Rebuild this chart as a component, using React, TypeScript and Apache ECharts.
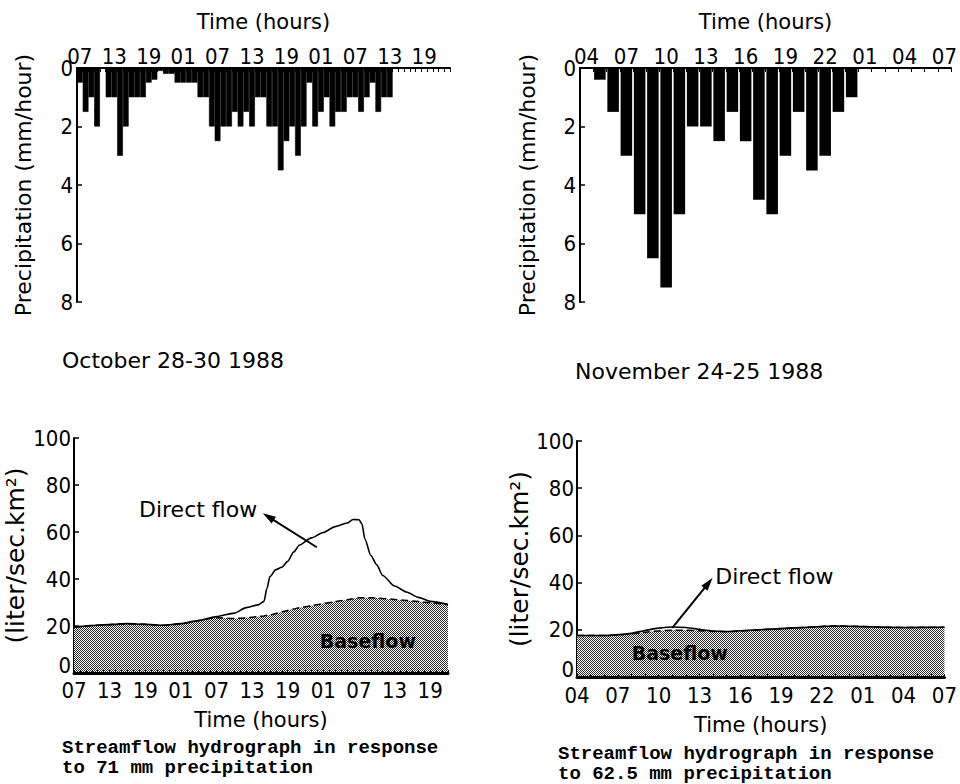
import React, { useEffect, useRef } from "react";
import * as echarts from "echarts";

// ---------- Top-left: October 28-30 1988 hourly precipitation (mm/hour), from 07:00 ----------
const octStartHour = 7;
const octAxisHourCount = 65;
const octPrecip = [
  0.5, 1.5, 1.0, 2.0, 0, 1.0, 1.0, 3.0, 2.0, 1.0,
  1.0, 1.0, 0.5, 0.4, 0.1, 0.2, 0.2, 0.5, 0.5, 0.5,
  0.5, 1.0, 1.0, 2.0, 2.5, 2.0, 2.0, 1.5, 2.0, 1.5,
  2.0, 1.0, 1.0, 2.0, 2.0, 3.5, 2.5, 2.0, 3.0, 2.0,
  0.5, 2.0, 1.5, 1.0, 2.0, 1.5, 1.5, 1.0, 1.0, 1.5,
  1.0, 0.5, 1.5, 1.0, 1.0,
];

// ---------- Top-right: November 24-25 1988 hourly precipitation (mm/hour), from 04:00 ----------
const novStartHour = 4;
const novAxisHourCount = 28;
const novPrecip = [
  0, 0.4, 1.5, 3.0, 5.0, 6.5, 7.5, 5.0, 2.0, 2.0,
  2.5, 1.5, 2.5, 4.5, 5.0, 3.0, 1.5, 3.5, 3.0, 1.5, 1.0,
];

const precipTicks = [0, 2, 4, 6, 8];

// ---------- Bottom-left: streamflow, October (hours after 07:00) ----------
const octFlowTickLabels = ["07", "13", "19", "01", "07", "13", "19", "01", "07", "13", "19"];
const octFlowHours = [
  0, 3, 6, 9, 12, 15, 18, 21, 24, 27,
  29, 31, 32, 32.5, 33, 34, 35, 36, 37, 38,
  40, 42, 44, 46, 47, 48, 48.5, 49, 50, 51,
  52, 54, 56, 58, 60, 63,
];
const octBaseflow = [
  19.5, 20.2, 20.6, 21, 20.7, 20.3, 21, 22.3, 23.5, 23.2,
  23.5, 24, 24.3, 24.5, 24.7, 25.3, 26, 26.6, 27.2, 27.8,
  28.6, 29.6, 30.4, 31.2, 31.6, 32, 32, 32, 32, 31.9,
  31.7, 31.3, 30.9, 30.4, 29.9, 29.1,
];
const octDirectFlow = [
  19.5, 20.2, 20.6, 21, 20.7, 20.3, 21, 22.3, 24, 25.5,
  27.8, 29, 30.5, 36, 41, 44, 45, 47.5, 51.5, 54.5,
  57.5, 59.8, 62.3, 63.8, 65.3, 65.2, 63.5, 57, 50, 46,
  41.5, 37, 34.5, 32.2, 30.5, 29.1,
];

// ---------- Bottom-right: streamflow, November (hours after 04:00) ----------
const novFlowTickLabels = ["04", "07", "10", "13", "16", "19", "22", "01", "04", "07"];
const novFlowHours = [0, 2, 4, 5, 6, 7, 8, 9, 10, 11, 12, 14, 16, 18, 19, 20, 22, 24, 27];
const novBaseflow = [
  17.6, 17.6, 18.3, 19, 19.5, 19.8, 19.8, 19.6, 19.3, 19.2,
  19.5, 20.2, 20.8, 21.4, 21.6, 21.5, 21.2, 21, 21.1,
];
const novDirectFlow = [
  17.6, 17.6, 18.5, 19.7, 20.7, 21.2, 21, 20.2, 19.5, 19.3,
  19.6, 20.2, 20.8, 21.4, 21.6, 21.5, 21.2, 21, 21.1,
];

const flowTicks = [0, 20, 40, 60, 80, 100];

// ---------- annotation anchors (data coordinates) ----------
const octArrow = { head: [31.8, 68], tail: [40.9, 53.5], text: [20.9, 69.7], base: [49.5, 13.5] };
const novArrow = { head: [9.96, 41.9], tail: [7.0, 20.8], text: [14.5, 42.7], base: [7.55, 10.2] };

const pad2 = (n: number) => (n < 10 ? "0" + n : String(n));
function hourCategories(start: number, count: number) {
  const out: string[] = [];
  for (let i = 0; i < count; i++) out.push(pad2((start + i) % 24));
  return out;
}

const LABEL_FONT = "'Liberation Sans Narrow','DejaVu Sans Condensed','Roboto Condensed','DejaVu Sans',sans-serif";
const SANS = "'DejaVu Sans',sans-serif";

function hatchPattern() {
  const c = document.createElement("canvas");
  c.width = 4;
  c.height = 4;
  const g = c.getContext("2d");
  if (g) {
    g.fillStyle = "#ffffff";
    g.fillRect(0, 0, 4, 4);
    g.fillStyle = "#2a2a2a";
    const dots = [[0, 0], [2, 0], [1, 1], [3, 1], [0, 2], [2, 2], [1, 3], [3, 3]];
    for (const [px, py] of dots) g.fillRect(px, py, 1, 1);
  }
  return { image: c.toDataURL(), repeat: "repeat", imageWidth: 4, imageHeight: 4 };
}

export default function App() {
  const ref = useRef<HTMLDivElement>(null);

  useEffect(() => {
    document.body.style.margin = "0";
    if (!ref.current) return;
    const chart = echarts.init(ref.current, null, { renderer: "svg" });
    const pattern = hatchPattern();

    const axisLabelStyle = { color: "#000", fontFamily: LABEL_FONT, fontSize: 22 };
    const nameStyle = { color: "#000", fontFamily: SANS, fontSize: 21 };
    const blackLine = (w: number) => ({ show: true, lineStyle: { color: "#000", width: w } });

    const octCats = hourCategories(octStartHour, octAxisHourCount);
    const novCats = hourCategories(novStartHour, novAxisHourCount);

    // the zero label of the flow axes sits a little above the baseline, as in the original
    const flowYLabel = {
      ...axisLabelStyle,
      margin: 3,
      formatter: (v: number) => (v === 0 ? "{z|0}" : String(v)),
      rich: { z: { fontFamily: LABEL_FONT, fontSize: 22, color: "#000", padding: [0, 0, 16, 0] } },
    };

    const option: any = {
      animation: false,
      backgroundColor: "#fff",
      grid: [
        { left: 77, top: 68, width: 373, height: 234 },
        { left: 580, top: 68, width: 372, height: 234 },
        { left: 74, top: 438, width: 374, height: 235 },
        { left: 577, top: 441, width: 374, height: 236 },
      ],
      xAxis: [
        {
          gridIndex: 0, type: "category", position: "top", data: octCats, boundaryGap: true,
          axisLine: blackLine(2),
          axisTick: { show: true, inside: true, length: 4, interval: 0, lineStyle: { color: "#000", width: 1 } },
          axisLabel: { ...axisLabelStyle, interval: 5, margin: 1 },
          name: "Time (hours)", nameLocation: "middle", nameGap: 36, nameTextStyle: nameStyle,
          splitLine: { show: false },
        },
        {
          gridIndex: 1, type: "category", position: "top", data: novCats, boundaryGap: true,
          axisLine: blackLine(2),
          axisTick: { show: true, inside: true, length: 4, interval: 0, lineStyle: { color: "#000", width: 1 } },
          axisLabel: { ...axisLabelStyle, interval: 2, margin: 1 },
          name: "Time (hours)", nameLocation: "middle", nameGap: 36, nameTextStyle: nameStyle,
          splitLine: { show: false },
        },
        {
          gridIndex: 2, type: "value", position: "bottom", min: 0, max: 63, interval: 6, z: 5,
          axisLine: blackLine(3),
          axisTick: { show: true, inside: true, length: 3, lineStyle: { color: "#000" } },
          minorTick: { show: true, splitNumber: 6, length: 3, lineStyle: { color: "#000" } },
          axisLabel: {
            ...axisLabelStyle, margin: 6, showMaxLabel: false,
            formatter: (v: number) => (v % 6 === 0 ? octFlowTickLabels[v / 6] ?? "" : ""),
          },
          name: "Time (hours)", nameLocation: "middle", nameGap: 36, nameTextStyle: nameStyle,
          splitLine: { show: false },
        },
        {
          gridIndex: 3, type: "value", position: "bottom", min: 0, max: 27, interval: 3, z: 5,
          axisLine: blackLine(3),
          axisTick: { show: true, inside: true, length: 3, lineStyle: { color: "#000" } },
          minorTick: { show: true, splitNumber: 3, length: 3, lineStyle: { color: "#000" } },
          axisLabel: {
            ...axisLabelStyle, margin: 7,
            formatter: (v: number) => (v % 3 === 0 ? novFlowTickLabels[v / 3] ?? "" : ""),
          },
          name: "Time (hours)", nameLocation: "middle", nameGap: 37, nameTextStyle: nameStyle,
          splitLine: { show: false },
        },
      ],
      yAxis: [
        {
          gridIndex: 0, type: "value", inverse: true, min: precipTicks[0], max: precipTicks[precipTicks.length - 1], interval: 2,
          axisLine: blackLine(2),
          axisTick: { show: true, inside: true, length: 5, lineStyle: { color: "#000", width: 1.5 } },
          axisLabel: { ...axisLabelStyle, margin: 4 },
          splitLine: { show: false },
          name: "Precipitation (mm/hour)", nameLocation: "middle", nameGap: 43, nameRotate: 90,
          nameTextStyle: { ...nameStyle, fontSize: 22 },
        },
        {
          gridIndex: 1, type: "value", inverse: true, min: precipTicks[0], max: precipTicks[precipTicks.length - 1], interval: 2,
          axisLine: blackLine(2),
          axisTick: { show: true, inside: true, length: 5, lineStyle: { color: "#000", width: 1.5 } },
          axisLabel: { ...axisLabelStyle, margin: 4 },
          splitLine: { show: false },
          name: "Precipitation (mm/hour)", nameLocation: "middle", nameGap: 42, nameRotate: 90,
          nameTextStyle: { ...nameStyle, fontSize: 22 },
        },
        {
          gridIndex: 2, type: "value", min: flowTicks[0], max: flowTicks[flowTicks.length - 1], interval: 20,
          axisLine: blackLine(2),
          axisTick: { show: true, inside: true, length: 5, lineStyle: { color: "#000", width: 1.5 } },
          axisLabel: flowYLabel,
          splitLine: { show: false },
          name: "(liter/sec.km²)", nameLocation: "middle", nameGap: 46, nameRotate: 90,
          nameTextStyle: { ...nameStyle, fontSize: 25 },
        },
        {
          gridIndex: 3, type: "value", min: flowTicks[0], max: flowTicks[flowTicks.length - 1], interval: 20,
          axisLine: blackLine(2),
          axisTick: { show: true, inside: true, length: 5, lineStyle: { color: "#000", width: 1.5 } },
          axisLabel: flowYLabel,
          splitLine: { show: false },
          name: "(liter/sec.km²)", nameLocation: "middle", nameGap: 44, nameRotate: 90,
          nameTextStyle: { ...nameStyle, fontSize: 25 },
        },
      ],
      series: [
        {
          type: "bar", xAxisIndex: 0, yAxisIndex: 0, data: octPrecip,
          barCategoryGap: "0%", silent: true,
          itemStyle: { color: "#000", borderColor: "#000", borderWidth: 0.6 },
        },
        {
          type: "bar", xAxisIndex: 1, yAxisIndex: 1, data: novPrecip,
          barCategoryGap: "13%", itemStyle: { color: "#000" }, silent: true,
        },
        {
          type: "line", xAxisIndex: 2, yAxisIndex: 2, name: "Baseflow",
          data: octFlowHours.map((h, i) => [h, octBaseflow[i]]),
          smooth: 0.3, showSymbol: false, z: 2,
          lineStyle: { color: "#000", width: 1.5, type: [7, 4] },
          areaStyle: { color: pattern, opacity: 1 },
        },
        {
          type: "line", xAxisIndex: 2, yAxisIndex: 2, name: "Direct flow",
          data: octFlowHours.map((h, i) => [h, octDirectFlow[i]]),
          smooth: 0.25, smoothMonotone: "x", showSymbol: false, z: 3,
          lineStyle: { color: "#000", width: 1.6 },
        },
        {
          type: "line", xAxisIndex: 3, yAxisIndex: 3, name: "Baseflow",
          data: novFlowHours.map((h, i) => [h, novBaseflow[i]]),
          smooth: 0.3, showSymbol: false, z: 2,
          lineStyle: { color: "#000", width: 1.5, type: [7, 4] },
          areaStyle: { color: pattern, opacity: 1 },
        },
        {
          type: "line", xAxisIndex: 3, yAxisIndex: 3, name: "Direct flow",
          data: novFlowHours.map((h, i) => [h, novDirectFlow[i]]),
          smooth: 0.3, showSymbol: false, z: 3,
          lineStyle: { color: "#000", width: 1.6 },
        },
      ],
    };

    chart.setOption(option);

    const px = (grid: number, p: number[]) => chart.convertToPixel({ gridIndex: grid }, p) as number[];

    const arrow = (grid: number, head: number[], tail: number[]) => {
      const h = px(grid, head);
      const t = px(grid, tail);
      const dx = h[0] - t[0];
      const dy = h[1] - t[1];
      const len = Math.sqrt(dx * dx + dy * dy) || 1;
      const ux = dx / len;
      const uy = dy / len;
      const L = 13;
      const W = 4;
      const bx = h[0] - ux * L;
      const by = h[1] - uy * L;
      return [
        {
          type: "line", z: 100,
          shape: { x1: t[0], y1: t[1], x2: bx + ux * 2, y2: by + uy * 2 },
          style: { stroke: "#000", lineWidth: 2 },
        },
        {
          type: "polygon", z: 100,
          shape: { points: [[h[0], h[1]], [bx - uy * W, by + ux * W], [bx + uy * W, by - ux * W]] },
          style: { fill: "#000" },
        },
      ];
    };

    const label = (grid: number, p: number[], text: string, font: string) => {
      const q = px(grid, p);
      return {
        type: "text", x: q[0], y: q[1], z: 100,
        style: { text, fill: "#000", font, textAlign: "center", textVerticalAlign: "middle" },
      };
    };

    const caption = (x: number, y: number, text: string, font: string, lineHeight?: number) => ({
      type: "text", x, y, z: 100,
      style: { text, fill: "#000", font, lineHeight, textAlign: "left", textVerticalAlign: "middle" },
    });

    const monoFont = "bold 19px 'Liberation Mono','DejaVu Sans Mono',monospace";
    const dateFont = "22px 'DejaVu Sans',sans-serif";

    chart.setOption({
      graphic: [
        ...arrow(2, octArrow.head, octArrow.tail),
        ...arrow(3, novArrow.head, novArrow.tail),
        label(2, octArrow.text, "Direct flow", "22px 'DejaVu Sans',sans-serif"),
        label(3, novArrow.text, "Direct flow", "22px 'DejaVu Sans',sans-serif"),
        label(2, octArrow.base, "Baseflow", "bold 19px 'DejaVu Sans',sans-serif"),
        label(3, novArrow.base, "Baseflow", "bold 19px 'DejaVu Sans',sans-serif"),
        caption(62, 360, "October 28-30 1988", dateFont),
        caption(575, 371, "November 24-25 1988", dateFont),
        caption(62, 758, "Streamflow hydrograph in response\nto 71 mm precipitation", monoFont, 20),
        caption(558, 763.5, "Streamflow hydrograph in response\nto 62.5 mm precipitation", monoFont, 20),
      ],
    });

    return () => chart.dispose();
  }, []);

  return <div ref={ref} style={{ width: 960, height: 784, background: "#fff" }} />;
}
